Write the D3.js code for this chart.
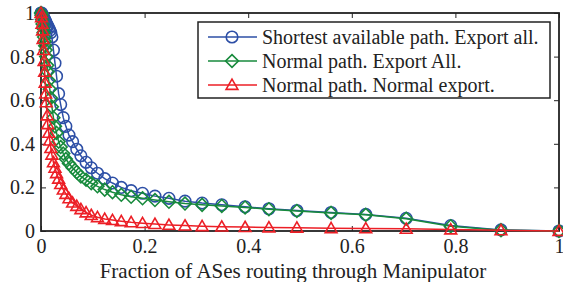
<!DOCTYPE html>
<html>
<head>
<meta charset="utf-8">
<script src="https://cdn.jsdelivr.net/npm/d3@7"></script>
<style>
  body { margin: 0; background: #fff; }
  svg text { font-family: "Liberation Serif", Tinos, "Times New Roman", "DejaVu Serif", serif !important; fill: #222; }
</style>
</head>
<body>
<div id="chart"></div>
<script>
// shared x positions (fraction of ASes)
var xVals = [0, 0.001, 0.002, 0.003, 0.004, 0.005, 0.006, 0.007, 0.008, 0.009,
  0.010, 0.012, 0.013, 0.015, 0.017, 0.019, 0.021, 0.024, 0.027, 0.030,
  0.034, 0.038, 0.043, 0.048, 0.054, 0.061, 0.069, 0.077, 0.087, 0.097,
  0.109, 0.123, 0.138, 0.155, 0.174, 0.196, 0.220, 0.247, 0.278, 0.311,
  0.349, 0.394, 0.440, 0.494, 0.560, 0.627, 0.705, 0.791, 0.888, 1.0];

var shortestExportAll = [1, 1, 0.995, 0.99, 0.985, 0.98, 0.975, 0.97, 0.965, 0.96,
  0.955, 0.945, 0.94, 0.93, 0.92, 0.91, 0.89, 0.83, 0.77, 0.71,
  0.63, 0.58, 0.52, 0.48, 0.44, 0.41, 0.375, 0.345, 0.315, 0.29,
  0.265, 0.24, 0.22, 0.2, 0.185, 0.173, 0.16, 0.15, 0.137, 0.128,
  0.12, 0.111, 0.102, 0.094, 0.085, 0.076, 0.058, 0.025, 0.005, 0];

var normalExportAll = [1, 0.99, 0.97, 0.95, 0.93, 0.91, 0.89, 0.87, 0.85, 0.83,
  0.80, 0.76, 0.73, 0.69, 0.65, 0.61, 0.57, 0.52, 0.48, 0.45,
  0.41, 0.385, 0.355, 0.33, 0.31, 0.29, 0.27, 0.25, 0.235, 0.219,
  0.205, 0.19, 0.178, 0.166, 0.157, 0.15, 0.142, 0.134, 0.126, 0.12,
  0.115, 0.108, 0.1, 0.092, 0.083, 0.074, 0.056, 0.022, 0.004, 0];

var normalNormal = [1, 0.98, 0.95, 0.92, 0.88, 0.83, 0.78, 0.73, 0.68, 0.63,
  0.59, 0.53, 0.49, 0.45, 0.415, 0.38, 0.35, 0.315, 0.29, 0.265,
  0.24, 0.215, 0.19, 0.17, 0.15, 0.13, 0.115, 0.10, 0.085, 0.073,
  0.063, 0.055, 0.05, 0.045, 0.04, 0.036, 0.032, 0.028, 0.025, 0.022,
  0.02, 0.018, 0.016, 0.015, 0.013, 0.012, 0.01, 0.007, 0.003, 0];

var seriesNames = ["Shortest available path. Export all.", "Normal path. Export All.", "Normal path. Normal export."];
var xTicks = [0, 0.2, 0.4, 0.6, 0.8, 1];
var yTicks = [0, 0.2, 0.4, 0.6, 0.8, 1];

var series = [
  {name: seriesNames[0], values: shortestExportAll, color: "#2d4fa6", marker: "circle"},
  {name: seriesNames[1], values: normalExportAll, color: "#178a3c", marker: "diamond"},
  {name: seriesNames[2], values: normalNormal, color: "#ec1f26", marker: "triangle"}
];

var width = 563, height = 282;
var margin = {top: 13, right: 4, bottom: 51, left: 41};
var serif = "Liberation Serif";

var svg = d3.select("#chart").append("svg")
  .attr("width", width)
  .attr("height", height);

var x = d3.scaleLinear().domain([0, 1]).range([margin.left, width - margin.right]);
var y = d3.scaleLinear().domain([0, 1]).range([height - margin.bottom, margin.top]);

var fmt = function(d) { return d === 0 || d === 1 ? d : d3.format(".1f")(d); };

// axes, ticks pointing inward like matlab
var tickLen = 5;
svg.append("g")
  .attr("transform", "translate(0," + y(0) + ")")
  .call(d3.axisBottom(x).tickValues(xTicks).tickSizeInner(-tickLen).tickSizeOuter(0).tickPadding(8).tickFormat(fmt))
  .call(function(g) {
    g.attr("font-family", serif).attr("font-size", 20);
    g.select(".domain").remove();
    g.selectAll("text").attr("fill", "#222");
    g.selectAll("line").attr("stroke", "#222");
  });
svg.append("g")
  .attr("transform", "translate(" + x(0) + ",0)")
  .call(d3.axisLeft(y).tickValues(yTicks).tickSizeInner(-tickLen).tickSizeOuter(0).tickPadding(6).tickFormat(fmt))
  .call(function(g) {
    g.attr("font-family", serif).attr("font-size", 20);
    g.select(".domain").remove();
    g.selectAll("text").attr("fill", "#222");
    g.selectAll("line").attr("stroke", "#222");
  });
svg.append("g")
  .attr("transform", "translate(0," + y(1) + ")")
  .call(d3.axisTop(x).tickValues(xTicks).tickSizeInner(-tickLen).tickSizeOuter(0).tickFormat(""))
  .call(function(g) { g.select(".domain").remove(); g.selectAll("line").attr("stroke", "#222"); });
svg.append("g")
  .attr("transform", "translate(" + x(1) + ",0)")
  .call(d3.axisRight(y).tickValues(yTicks).tickSizeInner(-tickLen).tickSizeOuter(0).tickFormat(""))
  .call(function(g) { g.select(".domain").remove(); g.selectAll("line").attr("stroke", "#222"); });

svg.append("rect")
  .attr("x", x(0)).attr("y", y(1))
  .attr("width", x(1) - x(0)).attr("height", y(0) - y(1))
  .attr("fill", "none").attr("stroke", "#222").attr("stroke-width", 1.8);

var symbolFor = {
  circle: d3.symbol().type(d3.symbolCircle).size(105),
  diamond: d3.symbol().type(d3.symbolDiamond2).size(105),
  triangle: d3.symbol().type(d3.symbolTriangle2).size(100)
};

var line = d3.line()
  .x(function(d) { return x(d[0]); })
  .y(function(d) { return y(d[1]); });

series.forEach(function(s) {
  var pts = xVals.map(function(v, i) { return [v, s.values[i]]; });
  var g = svg.append("g");
  g.append("path")
    .datum(pts)
    .attr("d", line)
    .attr("fill", "none")
    .attr("stroke", s.color)
    .attr("stroke-width", 1.5);
  g.selectAll("path.mk")
    .data(pts)
    .enter().append("path")
    .attr("class", "mk")
    .attr("d", symbolFor[s.marker])
    .attr("transform", function(d) {
      var dy = s.marker === "triangle" ? 1 : 0;
      return "translate(" + x(d[0]) + "," + (y(d[1]) + dy) + ")";
    })
    .attr("fill", "none")
    .attr("stroke", s.color)
    .attr("stroke-width", 1.6);
});

// x axis label
svg.append("text")
  .attr("x", 293)
  .attr("y", 278)
  .attr("text-anchor", "middle")
  .attr("font-family", serif)
  .attr("font-size", 21)
  .text("Fraction of ASes routing through Manipulator");

// legend
var legend = svg.append("g");
legend.append("rect")
  .attr("x", 198).attr("y", 22)
  .attr("width", 352).attr("height", 76)
  .attr("fill", "#fff").attr("stroke", "#222").attr("stroke-width", 1.5);

var legendRows = [37, 61, 85];
series.forEach(function(s, i) {
  var ly = legendRows[i];
  legend.append("line")
    .attr("x1", 208).attr("x2", 257)
    .attr("y1", ly).attr("y2", ly)
    .attr("stroke", s.color).attr("stroke-width", 1.5);
  legend.append("path")
    .attr("d", symbolFor[s.marker])
    .attr("transform", "translate(232," + (ly + (s.marker === "triangle" ? 1 : 0)) + ")")
    .attr("fill", "none").attr("stroke", s.color).attr("stroke-width", 1.6);
  legend.append("text")
    .attr("x", 262).attr("y", ly + 7)
    .attr("font-family", serif)
    .attr("font-size", 20)
    .text(s.name);
});
</script>
</body>
</html>
